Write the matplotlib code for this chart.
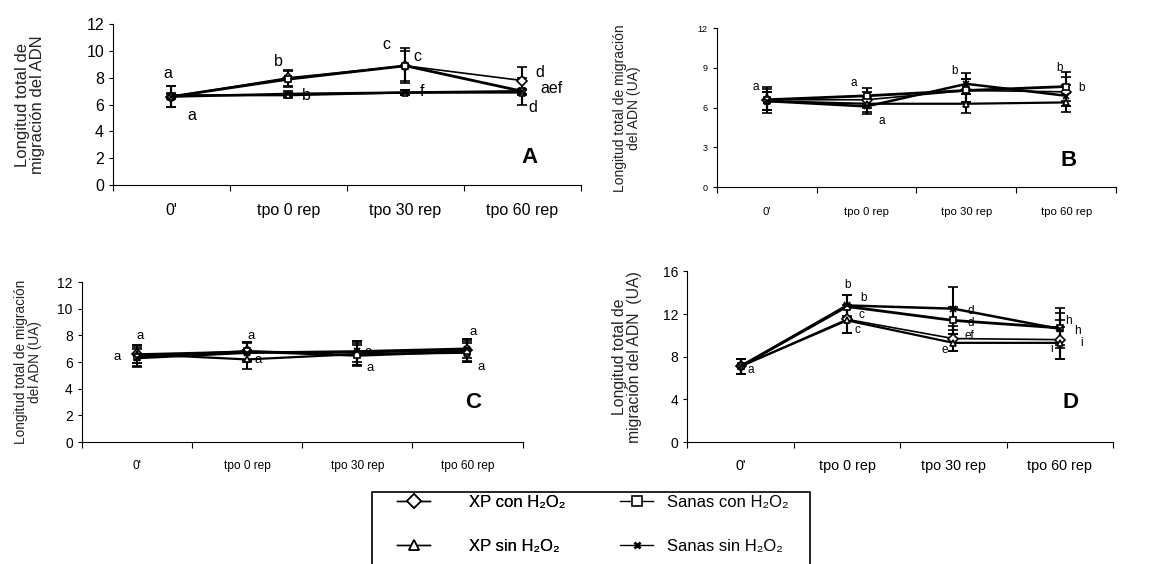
import matplotlib
import matplotlib.pyplot as plt
from matplotlib.lines import Line2D
from matplotlib.patches import Rectangle

matplotlib.use("Agg")
plt.rcParams["font.family"] = ["Liberation Sans", "DejaVu Sans"]

categories = ["0'", "tpo 0 rep", "tpo 30 rep", "tpo 60 rep"]
series_names = ["XP con H₂O₂", "XP sin H₂O₂", "Sanas con H₂O₂", "Sanas sin H₂O₂"]

# panel A
a_xp_con = [6.6, 8.0, 8.9, 7.8]
a_xp_sin = [6.7, 6.7, 6.9, 6.9]
a_sanas_con = [6.6, 7.9, 8.9, 7.0]
a_sanas_sin = [6.6, 6.8, 6.9, 7.0]
a_err = [[0.8, 0.6, 1.3, 1.0], [0.2, 0.2, 0.2, 0.2], [0.8, 0.6, 1.1, 1.0], [0.2, 0.2, 0.2, 0.2]]
a_letters = [(0.47, 8.35, "a"), (0.67, 5.2, "a"), (1.41, 9.2, "b"), (1.65, 6.65, "b"),
             (2.34, 10.5, "c"), (2.6, 9.6, "c"), (2.64, 7.0, "f"),
             (3.65, 8.4, "d"), (3.75, 7.2, "aef"), (3.59, 5.8, "d")]

# panel B
b_xp_con = [6.6, 6.6, 7.3, 7.2]
b_xp_sin = [6.5, 6.3, 6.3, 6.4]
b_sanas_con = [6.6, 6.9, 7.3, 7.6]
b_sanas_sin = [6.5, 6.1, 7.8, 6.9]
b_err = [[1.0, 0.6, 0.9, 1.1], [0.7, 0.6, 0.7, 0.7], [0.8, 0.6, 0.9, 1.1], [0.7, 0.6, 0.8, 0.8]]
b_letters = [(0.39, 7.6, "a"), (1.37, 7.9, "a"), (1.65, 5.0, "a"), (2.38, 8.8, "b"),
             (3.43, 9.0, "b"), (3.65, 7.5, "b")]

# panel C
c_xp_con = [6.6, 6.8, 6.7, 6.9]
c_xp_sin = [6.6, 6.2, 6.6, 6.7]
c_sanas_con = [6.4, 6.8, 6.5, 6.8]
c_sanas_sin = [6.3, 6.7, 6.8, 7.0]
c_err = [[0.7, 0.7, 0.9, 0.8], [0.7, 0.7, 0.8, 0.7], [0.7, 0.7, 0.8, 0.8], [0.7, 0.7, 0.8, 0.7]]
c_letters = [(0.53, 7.95, "a"), (0.32, 6.4, "a"), (1.54, 7.95, "a"), (1.6, 6.15, "a"),
             (2.6, 6.75, "a"), (2.62, 5.55, "a"), (3.55, 8.25, "a"), (3.62, 5.65, "a")]

# panel D
d_xp_con = [7.1, 11.5, 9.7, 9.6]
d_xp_sin = [7.1, 11.4, 9.3, 9.3]
d_sanas_con = [7.1, 12.7, 11.4, 10.7]
d_sanas_sin = [7.1, 12.8, 12.5, 10.6]
d_err = [[0.7, 1.3, 1.2, 1.8], [0.7, 1.2, 0.8, 1.5], [0.7, 1.1, 1.3, 1.9], [0.7, 1.0, 2.0, 1.5]]
d_letters = [(0.6, 6.8, "a"), (1.51, 14.7, "b"), (1.66, 13.5, "b"), (1.64, 11.9, "c"),
             (1.6, 10.5, "c"), (2.66, 12.3, "d"), (2.66, 11.2, "d"), (2.65, 9.95, "ef"),
             (2.42, 8.6, "e"), (3.58, 11.3, "h"), (3.67, 10.4, "h"), (3.71, 9.3, "i"),
             (3.42, 8.7, "i")]

markers = ["D", "^", "s", "x"]
widths = [1.2, 1.6, 2.0, 1.8]


def draw_panel(ax, series, errs, letters, yticks, ylabel, label_x, fs, panel, panel_pos):
    xs = [i + 0.5 for i in range(len(categories))]
    for vals, err, mk, lw in zip(series, errs, markers, widths):
        ax.errorbar(xs, vals, yerr=err, color="black", lw=lw, marker=mk, ms=5,
                    mfc="white", mec="black", mew=1.2, elinewidth=1.5,
                    capsize=3.5, capthick=1.5, zorder=3)
    for x, y, t in letters:
        ax.text(x, y, t, ha="center", va="center", fontsize=fs["letter"])
    ax.set_xlim(0, 4)
    ax.set_ylim(yticks[0], yticks[-1])
    ax.set_yticks(yticks)
    ax.set_xticks([0, 1, 2, 3, 4])
    ax.set_xticklabels([])
    ax.set_xticks(xs, minor=True)
    ax.set_xticklabels(categories, minor=True, fontsize=fs["x"])
    ax.tick_params(axis="x", which="minor", length=0, pad=fs["pad"])
    ax.tick_params(axis="x", which="major", length=4, direction="out")
    ax.tick_params(axis="y", labelsize=fs["y"], length=3, direction="out")
    for side in ["top", "right"]:
        ax.spines[side].set_visible(False)
    ax.set_ylabel(ylabel, fontsize=fs["label"], color="#222222", linespacing=1.0)
    ax.yaxis.set_label_coords(label_x, 0.5)
    ax.text(panel_pos[0], panel_pos[1], panel, transform=ax.transAxes,
            fontsize=16, fontweight="bold", ha="center", va="center")


fig = plt.figure(figsize=(11.69, 5.64), dpi=100)

ax_a = fig.add_axes([0.0967, 0.672, 0.400, 0.285])
draw_panel(ax_a, [a_xp_con, a_xp_sin, a_sanas_con, a_sanas_sin], a_err, a_letters,
           [0, 2, 4, 6, 8, 10, 12], "Longitud total de\nmigración del ADN", -0.145,
           {"letter": 11.5, "x": 11.5, "y": 11.5, "label": 12, "pad": 13}, "A", (0.89, 0.17))

ax_b = fig.add_axes([0.613, 0.668, 0.342, 0.282])
draw_panel(ax_b, [b_xp_con, b_xp_sin, b_sanas_con, b_sanas_sin], b_err, b_letters,
           [0, 3, 6, 9, 12], "Longitud total de migración\ndel ADN (UA)", -0.19,
           {"letter": 8.5, "x": 8.2, "y": 6.5, "label": 10, "pad": 14}, "B", (0.88, 0.17))

ax_c = fig.add_axes([0.070, 0.216, 0.377, 0.284])
draw_panel(ax_c, [c_xp_con, c_xp_sin, c_sanas_con, c_sanas_sin], c_err, c_letters,
           [0, 2, 4, 6, 8, 10, 12], "Longitud total de migración\ndel ADN (UA)", -0.09,
           {"letter": 9.5, "x": 8.6, "y": 10, "label": 9.8, "pad": 13}, "C", (0.887, 0.25))

ax_d = fig.add_axes([0.588, 0.216, 0.364, 0.303])
draw_panel(ax_d, [d_xp_con, d_xp_sin, d_sanas_con, d_sanas_sin], d_err, d_letters,
           [0, 4, 8, 12, 16], "Longitud total de\nmigración del ADN  (UA)", -0.106,
           {"letter": 8.5, "x": 10.4, "y": 10, "label": 11.3, "pad": 12}, "D", (0.90, 0.23))

handles = [Line2D([], [], color="black", lw=1, marker=m, ms=7 if m != "x" else 5,
                  mfc="white", mec="black", mew=1.2 if m != "x" else 2)
           for m in markers]
legend_kw = dict(loc="upper left", frameon=False, fontsize=12, handlelength=2.0,
                 labelspacing=1.75, borderpad=0, borderaxespad=0)
leg1 = fig.legend(handles[:2], series_names[:2], bbox_to_anchor=(397 / 1169, 1 - 495 / 564),
                  handletextpad=2.3, **legend_kw)
fig.legend(handles[2:], series_names[2:], bbox_to_anchor=(620 / 1169, 1 - 495 / 564),
           handletextpad=0.8, **legend_kw)
fig.add_artist(leg1)
fig.add_artist(Rectangle((372 / 1169, -0.05), 438 / 1169, 0.05 + 1 - 492 / 564,
                         transform=fig.transFigure, fill=False, edgecolor="black", lw=1.2))

fig.savefig("out.png", dpi=100)
